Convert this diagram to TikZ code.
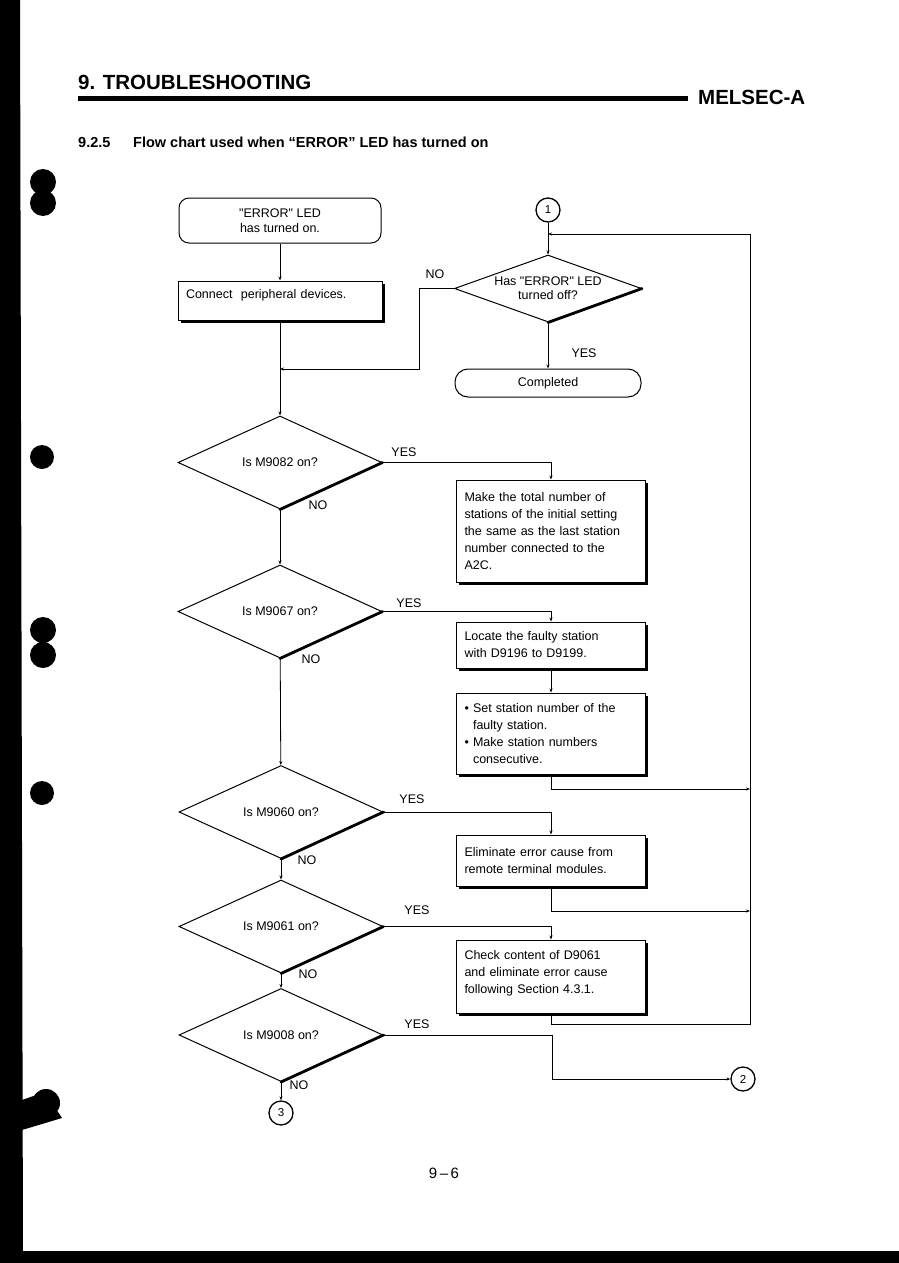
\documentclass[tikz,border=0pt]{standalone}
\usepackage{fontspec}
\setmainfont{Liberation Sans}
\usetikzlibrary{shapes.geometric}
\usetikzlibrary{arrows.meta}
\usetikzlibrary{shadows}
\newcommand{\chartfont}{\fontsize{12.5}{17}\selectfont}

\begin{document}
\begin{tikzpicture}[x=1pt, y=-1pt,
		terminal/.style={draw, line width=1pt, rounded corners=10pt, align=center, inner sep=0pt, font=\chartfont},
		procbox/.style={draw, fill=white, line width=1pt, align=left, inner xsep=8pt, inner ysep=0pt, font=\chartfont, text width=173pt, drop shadow={shadow xshift=2.5pt, shadow yshift=-2.5pt, fill=black, opacity=1}},
		decision/.style={diamond, aspect=2.8, draw, fill=white, line width=1pt, inner sep=0pt, align=center, font=\chartfont, minimum width=204pt, minimum height=93pt, append after command={(\tikzlastnode.east) edge[line width=2.8pt, line cap=round] (\tikzlastnode.south)}},
		connector/.style={circle, draw, line width=1.3pt, minimum size=24pt, inner sep=0pt, font=\fontsize{11.5}{11.5}\selectfont},
		answer/.style={font=\chartfont, inner sep=0pt},
		flow/.style={line width=0.8pt, -{Stealth[length=4pt, width=3pt]}},
		link/.style={line width=0.8pt}
		]
		\useasboundingbox (0,0) rectangle (899,1263);

		% Scan edges and punch holes
		\fill (0,0) -- (20,0) -- (23,1263) -- (0,1263) -- cycle;
		\fill (0,1251) rectangle (899,1263);
		\fill (43,182) circle[radius=13pt] (43,203) circle[radius=13pt];
		\fill (42,457) circle[radius=12pt];
		\fill (43,630) circle[radius=13pt] (43,655) circle[radius=13pt];
		\fill (42,793) circle[radius=12pt];
		\fill (46,1103) circle[radius=14pt];
		\fill (22,1100) -- (45,1092) -- (62,1118) -- (22,1130) -- cycle;

		% Page header
		\node[anchor=base west, inner sep=0pt, font=\fontsize{20.5}{24}\selectfont\bfseries] (chap) at (78,89) {9. TROUBLESHOOTING};
		\draw[line width=5pt] (78,98) -- (688,98);
		\node[anchor=base west, inner sep=0pt, font=\fontsize{20.5}{24}\selectfont\bfseries] (series) at (698,104) {MELSEC-A};
		\node[anchor=base west, inner sep=0pt, font=\fontsize{14.5}{17}\selectfont\bfseries] (secno) at (78,147) {9.2.5};
		\node[anchor=base west, inner sep=0pt, font=\fontsize{14.5}{17}\selectfont\bfseries] (sectitle) at (133,147) {Flow chart used when “ERROR” LED has turned on};

		% Left column
		\node[terminal, minimum width=202pt, minimum height=45pt] (start) at (280,220.5) {\textquotedbl ERROR\textquotedbl\ LED\\[-2pt]has turned on.};
		\node[procbox, text width=188pt, minimum height=39pt, text depth=13pt] (periph) at (280,300.5) {Connect\ \ peripheral devices.};
		\node[decision] (m9082) at (280,462.5) {Is M9082 on?};
		\node[decision] (m9067) at (280,611.5) {Is M9067 on?};
		\node[decision] (m9060) at (281,812) {Is M9060 on?};
		\node[decision] (m9061) at (281,926.5) {Is M9061 on?};
		\node[decision] (m9008) at (281,1035) {Is M9008 on?};
		\node[connector] (c3) at (281,1113) {3};

		% Right column
		\node[connector] (c1) at (548,210) {1};
		\node[decision, minimum width=187pt, minimum height=67pt] (ledoff) at (548,288.5) {Has \textquotedbl ERROR\textquotedbl\ LED\\[-3pt]turned off?};
		\node[terminal, rounded corners=13pt, minimum width=186pt, minimum height=28pt] (done) at (548,383) {Completed};
		\node[procbox, minimum height=102pt] (total) at (551,531) {Make the total number of\\stations of the initial setting\\the same as the last station\\number connected to the\\A2C.};
		\node[procbox, minimum height=46pt] (locate) at (551,645) {Locate the faulty station\\with D9196 to D9199.};
		\node[procbox, minimum height=81pt] (setno) at (551,733.5) {\textbullet\ Set station number of the\\\phantom{\textbullet\ }faulty station.\\\textbullet\ Make station numbers\\\phantom{\textbullet\ }consecutive.};
		\node[procbox, minimum height=51pt] (remote) at (551,860.5) {Eliminate error cause from\\remote terminal modules.};
		\node[procbox, minimum height=73pt, text depth=44pt] (check) at (551,976.5) {Check content of D9061\\and eliminate error cause\\following Section 4.3.1.};
		\node[connector] (c2) at (743,1079) {2};

		% Bends and rail
		\coordinate (nobend) at (419,369);
		\coordinate (join0) at (280,369);
		\coordinate (rail1) at (750,789);
		\coordinate (rail2) at (750,911);
		\coordinate (rail3) at (750,1024);
		\coordinate (railtop) at (750,234);
		\coordinate (loopin) at (548,234);
		\coordinate (bendc2) at (552,1079);

		% Connectors
		\draw[flow] (start) -- (periph);
		\draw[flow] (periph) -- (m9082);
		\draw[flow] (c1) -- (ledoff);
		\draw[flow] (ledoff.west) -| (nobend) -- (join0);
		\draw[flow] (ledoff) -- (done);
		\draw[flow] (m9082.east) -| (total.north);
		\draw[flow] (m9082) -- (m9067);
		\draw[flow] (m9067.east) -| (locate.north);
		\draw[flow] (locate) -- (setno);
		\draw[flow] (setno.south) |- (rail1);
		\draw[flow] (m9067) -- (m9060);
		\draw[flow] (m9060.east) -| (remote.north);
		\draw[flow] (remote.south) |- (rail2);
		\draw[flow] (m9060) -- (m9061);
		\draw[flow] (m9061.east) -| (check.north);
		\draw[flow] (check.south) |- (rail3) -- (railtop) -- (loopin);
		\draw[flow] (m9061) -- (m9008);
		\draw[flow] (m9008.east) -| (bendc2) -- (c2);
		\draw[flow] (m9008) -- (c3);

		% Branch labels
		\node[answer] (no0) at (435,274) {NO};
		\node[answer] (yes0) at (584,353) {YES};
		\node[answer] (yes1) at (404,452) {YES};
		\node[answer] (no1) at (318,505) {NO};
		\node[answer] (yes2) at (409,603) {YES};
		\node[answer] (no2) at (311,659) {NO};
		\node[answer] (yes3) at (412,799) {YES};
		\node[answer] (no3) at (307,860) {NO};
		\node[answer] (yes4) at (417,910) {YES};
		\node[answer] (no4) at (308,974) {NO};
		\node[answer] (yes5) at (417,1024) {YES};
		\node[answer] (no5) at (299,1085) {NO};

		% Page number
		\node[font=\fontsize{15}{17}\selectfont, inner sep=0pt] (pageno) at (444,1173) {9\,--\,6};
	\end{tikzpicture}
\end{document}
